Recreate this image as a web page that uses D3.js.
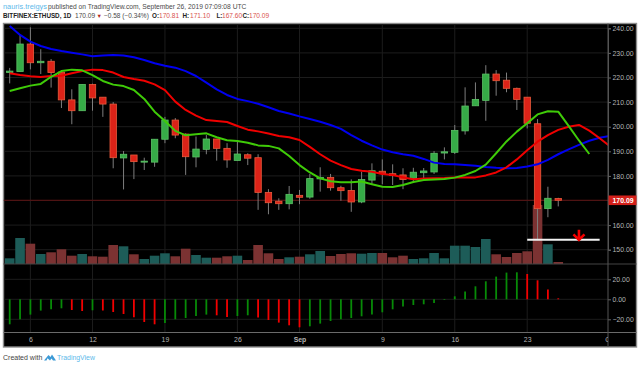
<!DOCTYPE html>
<html>
<head>
<meta charset="utf-8">
<script src="https://cdnjs.cloudflare.com/ajax/libs/d3/7.8.5/d3.min.js"></script>
<style>
  html, body { margin: 0; padding: 0; background: #fff; }
  svg { display: block; font-family: "Liberation Sans", Arial, sans-serif; }
</style>
</head>
<body>
<svg id="chart"></svg>
<script>
// daily ETHUSD candles, index 0 is Aug 4
const opens = [222,222.4,233.6,226,226.6,222.2,210.9,206.5,217.2,212,209.2,187.3,188.5,185.8,185.6,194.9,202.7,197,187.7,190.8,195,191.2,186.3,188.6,187.4,173.3,169.7,168.7,172.1,171.4,178.8,179.4,175.2,174.1,169.4,178.3,181.9,180.9,180.4,178.8,181.3,181.6,189.3,189.6,198.3,208.5,210.7,221.4,218.9,215.6,212,201.2,166.7,170.81];
const closes = [222.6,233.6,226,226.6,222,210.9,206.5,217.2,211.7,209.2,187.4,188.8,185.8,186,194.9,202.7,196.6,187.8,190.9,195,191.2,186.5,188.9,187.2,173.3,169.1,168.7,172.5,171.3,178.9,179.4,175.2,174,169.4,178.5,182.1,180.9,180.2,178.5,181.5,182,189.2,189.8,198.5,208.4,211.1,221.4,218.7,215.6,211.1,201.4,166.7,170.9,170.09];
const highs = [223.9,237.3,240.4,231.5,227.5,222.2,215.2,217.2,217.5,211.9,210,190.1,188.5,187.4,194.9,204,203.5,197.3,196,196.6,195,193.3,193.9,189.2,188.8,174.6,170.9,175.9,174.3,180.8,183.5,180.8,176,178.6,181.7,185.1,186.7,184.7,183.1,183.3,183.2,190.1,191.6,200.7,216,218,225,223,222,215.9,212,203.1,175.6,171.1];
const lows = [217.6,222.4,223.3,221.4,215.9,207.6,201,206.5,206.5,204,183.1,174.5,178.7,182.4,183.7,193.3,195.3,180.4,183.5,188.8,186.2,183.3,186.3,184.4,166.2,164.4,166.2,166.4,168.5,170.7,173.6,174,169.9,165.4,168.9,176.6,176.6,176.3,174.6,177.6,178.6,180.8,186.7,188.9,196.8,208.5,202.4,212.6,214,206.8,199.3,153.9,163.2,167.6];
const volumes = [5.7,26,20.3,10,11.7,14.7,8.3,10,7.7,7.3,19,17.7,9.7,5,8.3,10.7,7.7,15.3,9,6.3,6.3,7.7,8.3,4,19,10.7,5,6.7,7.3,9.7,13,8,10,10.7,10.3,11,11,6.7,8.3,5,5.7,11,5.7,18.3,18.3,17,25,9.7,7,11,12.7,59,19.7,2];

// moving averages, they run past the last candle
const blueLine = [240.9,237.3,234.6,232.8,231.6,230.8,230.1,229.4,228.6,228.9,229.1,228.9,228.2,227.1,225.8,224.8,224,222.6,220.6,217.9,215.2,212.9,211.3,210.4,209.3,207.9,206.4,205.4,204.2,203.1,202,200.7,199.1,196.6,194.3,192.4,190.7,189.6,188.8,188.2,186.9,185.4,184.8,184.7,184.4,184.1,183.6,183.3,183.1,183.2,183.8,184.7,186.5,188.8,190.8,192.6,194.3,195.5,196.3];
const redLine = [221.7,221,220.5,220.2,220.6,220.7,221.7,222.6,223.2,223,222,220.2,219.4,218.7,217.2,214.9,210.2,206.8,204.5,202.7,202.3,201.9,200.3,198.8,198.1,197.2,196.2,195.7,194.6,191.8,188.8,186.2,184.4,182.8,182.1,181.7,180.8,180.4,179.4,178.6,178.9,179,179.1,179.3,179.3,179.4,180.2,181.4,183.5,186.7,190.4,193.9,196.6,198.7,200,200.7,198.4,195.3,192];
const greenLine = [214.5,215.6,216.7,217.4,220.3,222.6,223.2,222.9,221,218.6,217.1,216.5,214.9,211.3,206.1,202.3,198.3,196.5,196.9,197.3,195.7,194.5,194.2,193.5,192.4,192.2,191.2,188.1,184.4,181.4,179,177.8,177.4,177.4,177.7,176.6,175.6,175.5,176.3,177.5,178.3,178.5,178.7,179.3,180.4,182,184.6,189.2,194,198,201.4,205,206.3,206.1,200.3,194.4,188.9];

const macd = [-25,-20,-15.3,-11.3,-10,-9,-10.7,-11.7,-11,-11.2,-12.7,-14.7,-18,-22.7,-25,-23.7,-20,-18.7,-16.7,-15.3,-16,-17.7,-16.7,-16,-18.3,-20.7,-23.3,-26,-28,-27,-24.3,-21.7,-20,-18.7,-17,-15.3,-13,-10,-7.3,-5.7,-5,-3.7,-0.7,3,7.7,13,18,22.7,26.7,27,25.3,19,9.7,1];

const timeTicks = [2, 8, 15, 22, 28, 36, 43, 50, 58];
const timeLabels = ["6", "12", "19", "26", "Sep", "9", "16", "23", "Oct"];
const priceTicks = [150, 160, 170, 180, 190, 200, 210, 220, 230, 240];
const macdTicks = [-20, 0, 20];
const lastPrice = 170.09;
const lineLevel = 154;

const width = 640;
const height = 367;
const frame = { left: 3.5, right: 636.5, top: 23.5, bottom: 347 };
const axisX = 608;
const volumeBottom = 264;
const macdBottom = 332.5;

const svg = d3.select("#chart").attr("width", width).attr("height", height);

// scales
const x = d3.scaleLinear().domain([0, 58]).range([9.7, 610]);
const y = d3.scaleLinear().domain([150, 240]).range([249.7, 28.3]);
const yVol = d3.scaleLinear().domain([0, 60]).range([volumeBottom, volumeBottom - 60]);
const yMacd = d3.scaleLinear().domain([-20, 20]).range([319.3, 279.3]);

svg.append("rect")
    .attr("x", frame.left).attr("y", frame.top)
    .attr("width", frame.right - frame.left).attr("height", frame.bottom - frame.top)
    .attr("fill", "#000").attr("stroke", "#8c8c8c").attr("stroke-width", 1.4);

svg.append("defs").append("clipPath").attr("id", "plot")
    .append("rect")
    .attr("x", frame.left).attr("y", frame.top)
    .attr("width", axisX - frame.left).attr("height", volumeBottom - frame.top);

// grid
const gridColor = "#1c1c1c";
const drawGrid = (ticks, scale) => svg.append("g")
    .selectAll("line").data(ticks).join("line")
    .attr("x1", frame.left + 1).attr("x2", axisX)
    .attr("y1", d => scale(d)).attr("y2", d => scale(d))
    .attr("stroke", gridColor);
drawGrid(priceTicks, y);
drawGrid(macdTicks, yMacd);
svg.append("g").selectAll("line").data(timeTicks.slice(0, -1)).join("line")
    .attr("x1", d => x(d)).attr("x2", d => x(d))
    .attr("y1", frame.top + 1).attr("y2", macdBottom)
    .attr("stroke", gridColor);

// volume
const plot = svg.append("g").attr("clip-path", "url(#plot)");
plot.append("g").selectAll("rect").data(volumes).join("rect")
    .attr("x", (d, i) => x(i) - 4.8)
    .attr("width", 9.6)
    .attr("y", d => yVol(d))
    .attr("height", d => volumeBottom - yVol(d))
    .attr("fill", (d, i) => closes[i] >= opens[i] ? "#1d5c58" : "#7b3232");

// last price line
plot.append("line")
    .attr("x1", frame.left).attr("x2", axisX)
    .attr("y1", y(lastPrice)).attr("y2", y(lastPrice))
    .attr("stroke", "#5e1212");

// candles
const candles = plot.append("g").selectAll("g").data(opens).join("g");
candles.append("line")
    .attr("x1", (d, i) => x(i)).attr("x2", (d, i) => x(i))
    .attr("y1", (d, i) => y(highs[i])).attr("y2", (d, i) => y(lows[i]))
    .attr("stroke", "#7d7d7d");
candles.append("rect")
    .attr("x", (d, i) => x(i) - 3.2)
    .attr("width", 6.4)
    .attr("y", (d, i) => y(Math.max(d, closes[i])))
    .attr("height", (d, i) => Math.max(1, Math.abs(y(d) - y(closes[i]))))
    .attr("fill", (d, i) => closes[i] >= d ? "#36ab47" : "#dc2318")
    .attr("stroke", (d, i) => closes[i] >= d ? "#5cc266" : "#ea5a3c")
    .attr("stroke-width", 0.8);

// moving averages
const lineGen = d3.line().x((d, i) => x(i)).y(d => y(d));
[[blueLine, "#0000f0"], [redLine, "#f00000"], [greenLine, "#3fcb08"]].forEach(([values, color]) => {
    plot.append("path")
        .datum(values)
        .attr("fill", "none")
        .attr("stroke", color)
        .attr("stroke-width", 2)
        .attr("stroke-linejoin", "round")
        .attr("d", lineGen);
});

// drawn level and arrow
plot.append("line")
    .attr("x1", x(50)).attr("x2", x(57))
    .attr("y1", y(lineLevel)).attr("y2", y(lineLevel))
    .attr("stroke", "#f2f2f2").attr("stroke-width", 2);
const arrowX = x(55);
const arrowY = y(lineLevel);
plot.append("path")
    .attr("d", `M${arrowX},${arrowY - 10}V${arrowY}M${arrowX - 5.5},${arrowY - 5.5}L${arrowX},${arrowY}L${arrowX + 5.5},${arrowY - 5.5}`)
    .attr("fill", "none").attr("stroke", "#f40000").attr("stroke-width", 2.6);

// macd histogram
svg.append("g").selectAll("line").data(macd).join("line")
    .attr("x1", (d, i) => x(i)).attr("x2", (d, i) => x(i))
    .attr("y1", yMacd(0)).attr("y2", d => yMacd(d))
    .attr("stroke", (d, i) => i === 0 || d >= macd[i - 1] ? "#078a07" : "#f20000")
    .attr("stroke-width", 1.8);

// pane separators
[volumeBottom, macdBottom].forEach(py => {
    svg.append("line")
        .attr("x1", frame.left).attr("x2", frame.right)
        .attr("y1", py).attr("y2", py)
        .attr("stroke", py === volumeBottom ? "#444" : "#6a6a6a");
});

// axes
const styleAxis = g => {
    g.select(".domain").attr("stroke", "#555");
    g.selectAll(".tick line").attr("stroke", "#666");
    g.selectAll(".tick text").attr("fill", "#b4b4b4")
        .attr("font-size", 6.9).attr("font-family", "Liberation Sans");
};
svg.append("g")
    .attr("transform", `translate(${axisX},0)`)
    .call(d3.axisRight(y).tickValues(priceTicks).tickFormat(d3.format(".2f")).tickSize(3).tickPadding(1.5))
    .call(styleAxis);
svg.append("g")
    .attr("transform", `translate(${axisX},0)`)
    .call(d3.axisRight(yMacd).tickValues(macdTicks).tickFormat(d3.format(".2f")).tickSize(3).tickPadding(1.5))
    .call(styleAxis)
    .call(g => g.select(".domain").remove());
svg.append("line")
    .attr("x1", axisX).attr("x2", axisX)
    .attr("y1", frame.top).attr("y2", frame.bottom)
    .attr("stroke", "#555");

svg.append("defs").append("clipPath").attr("id", "timeClip")
    .append("rect").attr("x", frame.left).attr("y", 0).attr("width", axisX - frame.left).attr("height", 15);
svg.append("g")
    .attr("clip-path", "url(#timeClip)")
    .attr("transform", `translate(0,${macdBottom})`)
    .call(d3.axisBottom(x).tickValues(timeTicks).tickFormat((d, i) => timeLabels[i]).tickSize(0).tickPadding(4.5))
    .call(styleAxis)
    .call(g => g.select(".domain").remove())
    .call(g => g.selectAll(".tick text").attr("font-weight", (d, i) => timeLabels[i] === "Sep" ? "bold" : "normal"));

// last price label
svg.append("rect")
    .attr("x", axisX + 0.5).attr("y", y(lastPrice) - 4.8)
    .attr("width", frame.right - axisX - 0.5).attr("height", 9.6)
    .attr("fill", "#d3201a");
svg.append("text")
    .attr("x", axisX + 4.5).attr("y", y(lastPrice) + 2.6)
    .attr("fill", "#fff").attr("font-size", 6.9).attr("font-weight", "bold")
    .text(d3.format(".2f")(lastPrice));

// header
const addText = (px, py, str, color, size, weight) => svg.append("text")
    .attr("x", px).attr("y", py).attr("fill", color)
    .attr("font-size", size).attr("font-weight", weight || "normal").text(str);

addText(3, 9.2, "nauris.treigys", "#5cb9ea", 7.4);
addText(48, 9.2, "published on TradingView.com, September 26, 2019 07:09:08 UTC", "#4a4a4a", 6.7);
const hdrY = 18.2;
const hdrRed = "#d9534f";
addText(3, hdrY, "BITFINEX:ETHUSD, 1D", "#222", 6.3, "bold");
addText(75, hdrY, "170.09", "#4a4a4a", 6.6);
addText(96.5, hdrY, "▼", "#b52a20", 5.5);
addText(104, hdrY, "−0.58 (−0.34%)", "#4a4a4a", 6.5);
addText(152, hdrY, "O:", "#222", 6.3, "bold");
addText(159, hdrY, "170.81", hdrRed, 6.6);
addText(182.5, hdrY, "H:", "#222", 6.3, "bold");
addText(190, hdrY, "171.10", hdrRed, 6.6);
addText(216.5, hdrY, "L:", "#222", 6.3, "bold");
addText(222, hdrY, "167.60", hdrRed, 6.6);
addText(242.5, hdrY, "C:", "#222", 6.3, "bold");
addText(249, hdrY, "170.09", hdrRed, 6.6);

// footer with the little cloud logo
addText(3, 360.2, "Created with", "#444", 7);
svg.append("path")
    .attr("d", "M44,360.5 L48.5,355 L50.5,357 L52,354.5 L56,360.5 L53,360.5 L51.5,358.5 L50,360.5 L47.5,358.3 L46.5,360.5 Z")
    .attr("fill", "#3d9ad6");
addText(57, 360.2, "TradingView", "#5cb9ea", 6.9);
</script>
</body>
</html>
